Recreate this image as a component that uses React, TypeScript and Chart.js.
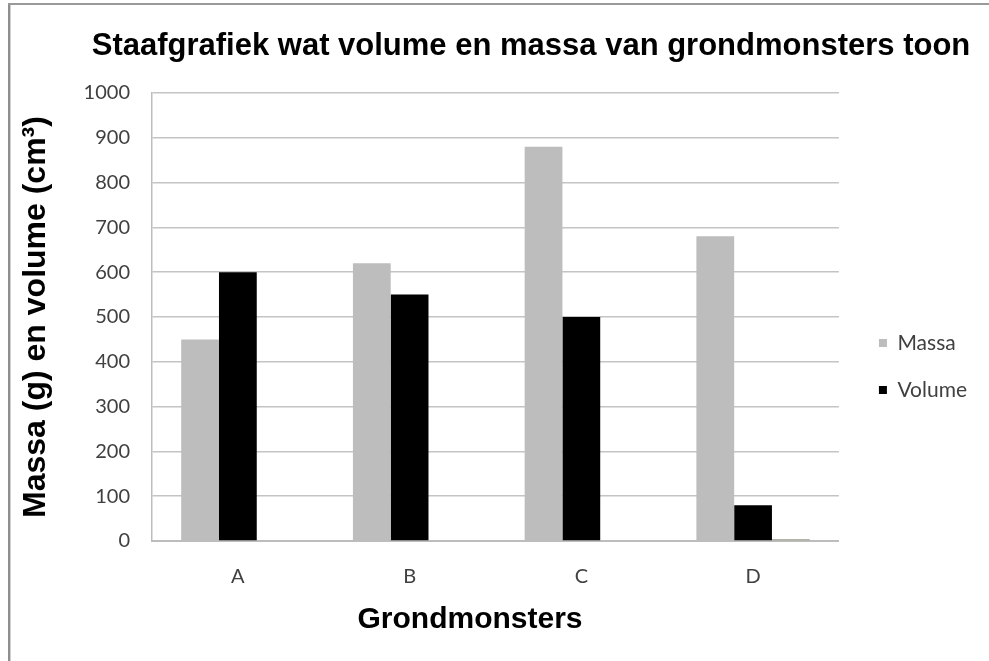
import React, { useEffect, useRef } from "react";
import { Chart, registerables } from "chart.js";

Chart.register(...registerables);

const categories = ["A", "B", "C", "D"];
const massaValues = [450, 620, 880, 680];
const volumeValues = [600, 550, 500, 80];
const extraValues = [0, 0, 0, 4];
const seriesNames = ["Massa", "Volume", ""];

const chartTitle = "Staafgrafiek wat volume en massa van grondmonsters toon";
const xAxisTitle = "Grondmonsters";
const yAxisTitle = "Massa (g) en volume (cm³)";

const yMin = 0;
const yMax = 1000;
const yStep = 100;

const tickFont = { family: "Lato, 'Open Sans', sans-serif", size: 20 };

const textPlugin = {
  id: "customTexts",
  afterDraw(chart: any) {
    const { ctx } = chart;
    ctx.save();
    ctx.fillStyle = "#000000";
    ctx.textAlign = "center";
    ctx.textBaseline = "alphabetic";
    ctx.font = "bold 31px 'Liberation Sans', Arial, sans-serif";
    ctx.fillText(chartTitle, 531, 55);
    ctx.font = "bold 30px 'Liberation Sans', Arial, sans-serif";
    ctx.fillText(xAxisTitle, 470, 628);
    ctx.restore();
  },
};

export default function App() {
  const canvasRef = useRef<HTMLCanvasElement | null>(null);

  useEffect(() => {
    const canvas = canvasRef.current;
    if (!canvas) return;
    const barOpts = { borderWidth: 0, barPercentage: 1, categoryPercentage: 0.66 };
    const chart = new Chart(canvas, {
      type: "bar",
      data: {
        labels: categories,
        datasets: [
          { label: seriesNames[0], data: massaValues, backgroundColor: "#bdbdbd", ...barOpts },
          { label: seriesNames[1], data: volumeValues, backgroundColor: "#000000", ...barOpts },
          { label: seriesNames[2], data: extraValues, backgroundColor: "#9a9a8a", ...barOpts },
        ],
      },
      options: {
        responsive: false,
        maintainAspectRatio: false,
        animation: false,
        layout: { padding: { top: 93, left: 0, right: 12, bottom: 21 } },
        plugins: {
          title: { display: false },
          tooltip: { enabled: false },
          legend: {
            display: true,
            position: "right",
            fullSize: true,
            labels: {
              boxWidth: 8,
              boxHeight: 8,
              padding: 26,
              color: "#404040",
              font: { family: "Lato, 'Open Sans', sans-serif", size: 21 },
              filter: (item: any) => item.text !== "",
            },
          },
        },
        scales: {
          x: {
            afterFit: (s: any) => {
              s.height = 99;
            },
            grid: { display: false, drawTicks: false },
            border: { display: true, color: "#bdbdbd", width: 2 },
            ticks: {
              padding: 24,
              color: "#404040",
              font: tickFont,
            },
          },
          y: {
            min: yMin,
            max: yMax,
            afterFit: (s: any) => {
              s.width = 152;
            },
            grid: { color: "#c4c4c4", lineWidth: 1.5, drawTicks: false },
            border: { display: true, color: "#bdbdbd", width: 1.5 },
            ticks: {
              stepSize: yStep,
              padding: 22,
              color: "#404040",
              font: tickFont,
              callback: (v: any) => String(v),
            },
            title: {
              display: true,
              text: yAxisTitle,
              color: "#000000",
              padding: { top: 17, bottom: 0 },
              font: { family: "'Liberation Sans', Arial, sans-serif", size: 32, weight: "bold" },
            },
          },
          legendGap: {
            type: "linear",
            position: "right",
            display: true,
            afterFit: (s: any) => {
              s.width = 14;
            },
            grid: { display: false, drawOnChartArea: false, drawTicks: false },
            border: { display: false },
            ticks: { display: false },
          },
        },
      },
      plugins: [textPlugin],
    });
    return () => chart.destroy();
  }, []);

  return (
    <div
      style={{
        position: "fixed",
        left: 0,
        top: 0,
        width: 989,
        height: 661,
        background: "#ffffff",
        overflow: "hidden",
      }}
    >
      <canvas ref={canvasRef} width={989} height={661} style={{ display: "block" }} />
      <div style={{ position: "absolute", left: 8, top: 3, width: 2, height: 658, background: "#8e8e8e" }} />
      <div style={{ position: "absolute", left: 10, top: 3, width: 1, height: 658, background: "#d0d0d0" }} />
      <div style={{ position: "absolute", left: 8, top: 3, width: 981, height: 2, background: "#9a9a9a" }} />
    </div>
  );
}
